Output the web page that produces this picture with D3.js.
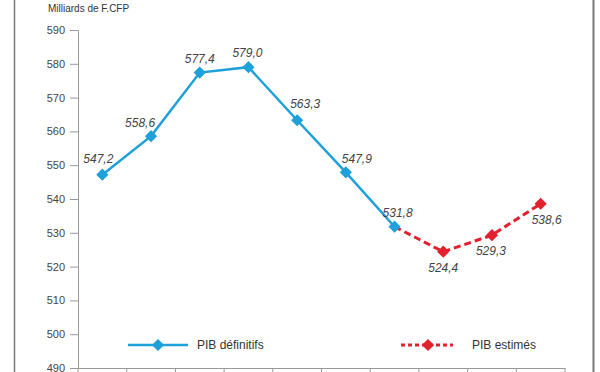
<!DOCTYPE html>
<meta charset="utf-8">
<html>
<head>
<style>
    body { margin: 0; background: #fff; }
    .tick text { font: 11px "Liberation Sans", Arial, sans-serif; fill: #444; }
    .lbl { font: italic 12px "Liberation Sans", Arial, sans-serif; fill: #444; }
    .leg { font: 12px "Liberation Sans", Arial, sans-serif; fill: #333; }
</style>
<script src="https://d3js.org/d3.v7.min.js"></script>
</head>
<body>
<svg id="svg" width="600" height="372"></svg>
<script>

    // category slots (their labels are below the visible frame)
    var years = ["2009", "2010", "2011", "2012", "2013", "2014", "2015", "2016", "2017", "2018"];
    var definitifs = [547.2, 558.6, 577.4, 579.0, 563.3, 547.9, 531.8, null, null, null];
    var estimes = [null, null, null, null, null, null, 531.8, 524.4, 529.3, 538.6];
    var yTicks = [490, 500, 510, 520, 530, 540, 550, 560, 570, 580, 590];

    // label offsets: [dx, dy] from point
    var labelPos = [[-4, -16], [-11, -13], [0, -14], [-1, -14], [8, -16], [11, -13], [3, -14], [0, 16], [-1, 16], [6, 16]];

    var svg = d3.select("svg");
    var fmt = function (v) { return v.toFixed(1).replace(".", ","); };

    var x = d3.scaleBand().domain(years).range([78, 565]);
    var y = d3.scaleLinear().domain([490, 590]).range([368, 30]);

    // frame
    svg.append("line").attr("x1", 14.5).attr("x2", 14.5).attr("y1", 0).attr("y2", 372)
        .attr("stroke", "#777").attr("stroke-width", 1.5);
    svg.append("line").attr("x1", 593.5).attr("x2", 593.5).attr("y1", 0).attr("y2", 372)
        .attr("stroke", "#777").attr("stroke-width", 2);

    svg.append("text").attr("x", 48).attr("y", 12)
        .style("font", "10px 'Liberation Sans', Arial, sans-serif").style("fill", "#333")
        .text("Milliards de F.CFP");

    var yAxis = svg.append("g").attr("transform", "translate(78,0)")
        .call(d3.axisLeft(y).tickValues(yTicks).tickSize(8).tickPadding(5));
    yAxis.selectAll("line, path").attr("stroke", "#999");

    var xAxis = svg.append("g").attr("transform", "translate(0,368)")
        .call(d3.axisBottom(x).tickSize(0).tickFormat(""));
    xAxis.select("path").attr("stroke", "#999");
    // boundaries between categories
    xAxis.selectAll(".sep").data(years.concat(["end"])).enter().append("line")
        .attr("class", "sep")
        .attr("x1", function (d, i) { return 78 + i * x.bandwidth(); })
        .attr("x2", function (d, i) { return 78 + i * x.bandwidth(); })
        .attr("y1", 0).attr("y2", 8).attr("stroke", "#999");

    var cx = function (d, i) { return x(years[i]) + x.bandwidth() / 2; };

    var line = d3.line()
        .defined(function (d) { return d != null; })
        .x(function (d, i) { return cx(d, i); })
        .y(function (d) { return y(d); });

    var blue = "#1ea0db", red = "#e3202d";
    var diamond = d3.symbol().type(d3.symbolDiamond2).size(95);

    svg.append("path").datum(estimes).attr("d", line)
        .attr("fill", "none").attr("stroke", red).attr("stroke-width", 3)
        .attr("stroke-dasharray", "7,4");
    svg.append("path").datum(definitifs).attr("d", line)
        .attr("fill", "none").attr("stroke", blue).attr("stroke-width", 2.5);

    function markers(data, color, skip) {
        svg.append("g").selectAll("path").data(data).enter()
            .filter(function (d, i) { return d != null && skip.indexOf(i) < 0; })
            .append("path")
            .attr("d", diamond)
            .attr("fill", color)
            .attr("transform", function (d) {
                var i = data.indexOf(d);
                return "translate(" + cx(d, i) + "," + y(d) + ")";
            });
    }
    markers(estimes, red, [6]);
    markers(definitifs, blue, []);

    // value labels
    var all = definitifs.map(function (d, i) { return d != null ? d : estimes[i]; });
    svg.append("g").selectAll("text").data(all).enter().append("text")
        .attr("class", "lbl")
        .attr("text-anchor", "middle")
        .attr("x", function (d, i) { return cx(d, i) + labelPos[i][0]; })
        .attr("y", function (d, i) { return y(d) + labelPos[i][1]; })
        .attr("dy", "0.35em")
        .text(fmt);

    // legend
    var lg = svg.append("g");
    lg.append("line").attr("x1", 128).attr("x2", 188).attr("y1", 345).attr("y2", 345)
        .attr("stroke", blue).attr("stroke-width", 2.5);
    lg.append("path").attr("d", diamond).attr("fill", blue).attr("transform", "translate(158,345)");
    lg.append("text").attr("class", "leg").attr("x", 197).attr("y", 345).attr("dy", "0.35em").text("PIB définitifs");
    lg.append("line").attr("x1", 401).attr("x2", 453).attr("y1", 345).attr("y2", 345)
        .attr("stroke", red).attr("stroke-width", 3).attr("stroke-dasharray", "4,3");
    lg.append("path").attr("d", diamond).attr("fill", red).attr("transform", "translate(428,345)");
    lg.append("text").attr("class", "leg").attr("x", 472).attr("y", 345).attr("dy", "0.35em").text("PIB estimés");

</script>
</body>
</html>
